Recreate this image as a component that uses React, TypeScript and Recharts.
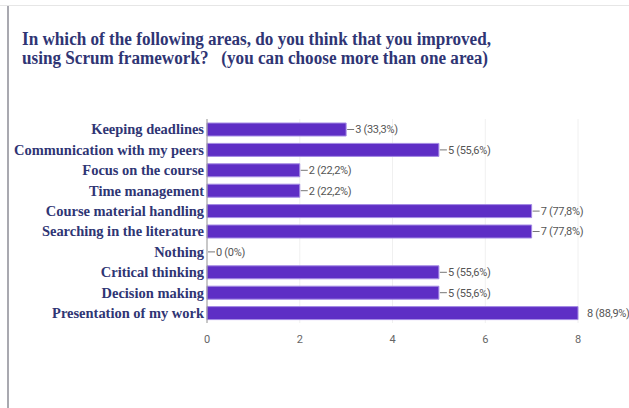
import React from "react";
import { BarChart, Bar, XAxis, YAxis, CartesianGrid, LabelList, Rectangle } from "recharts";

const categories = [
  "Keeping deadlines",
  "Communication with my peers",
  "Focus on the course",
  "Time management",
  "Course material handling",
  "Searching in the literature",
  "Nothing",
  "Critical thinking",
  "Decision making",
  "Presentation of my work",
];
const counts = [3, 5, 2, 2, 7, 7, 0, 5, 5, 8];
const percents = ["33,3%", "55,6%", "22,2%", "22,2%", "77,8%", "77,8%", "0%", "55,6%", "55,6%", "88,9%"];
const xTicks = [0, 2, 4, 6, 8];

const data = categories.map((name, i) => ({ name, value: counts[i], pct: percents[i] }));

const NAVY = "#2f3574";

const ValueLabel = (props: any) => {
  const { x, y, height, value } = props;
  const d = data.find((r) => r.name === value);
  if (!d) return null;
  const cy = y + height / 2;
  const endX = d.value === 0 ? x : x + props.width;
  const isMax = d.value === 8;
  const text = `${d.value} (${d.pct})`;
  return (
    <g>
      {!isMax && <line x1={endX + 1} x2={endX + 8} y1={cy} y2={cy} stroke="#777" strokeWidth={1} />}
      <text
        x={endX + 9}
        y={cy}
        dy="0.35em"
        fontFamily="Roboto, Arial, sans-serif"
        fontSize={11}
        fill="#555"
        letterSpacing={-0.3}
      >
        {text}
      </text>
    </g>
  );
};

const BarShape = (props: any) => {
  if (!props.payload || props.payload.value === 0) return null;
  return <Rectangle {...props} />;
};

const CatTick = (props: any) => {
  const { x, y, payload } = props;
  const tx = x + 5;
  return (
    <text
      x={tx}
      y={y}
      dy="0.35em"
      textAnchor="end"
      fontFamily="'Liberation Serif', 'Times New Roman', serif"
      fontWeight="bold"
      fontSize={15}
      fill={NAVY}
      transform={`translate(${tx} 0) scale(0.965 1) translate(${-tx} 0)`}
    >
      {payload.value}
    </text>
  );
};

export default function App() {
  return (
    <div style={{ position: "absolute", left: 0, top: 0, width: 629, height: 408, background: "#fff", overflow: "hidden" }}>
      <div style={{ position: "absolute", left: 0, top: 5, width: 629, height: 1, background: "#e6e6e6" }} />
      <div style={{ position: "absolute", left: 7, top: 6, width: 2, height: 402, background: "#a9a9b0" }} />
      <div
        style={{
          position: "absolute",
          left: 22,
          top: 29,
          width: 700,
          fontFamily: "'Liberation Serif', 'Times New Roman', serif",
          fontWeight: "bold",
          fontSize: 19.7,
          lineHeight: "18.5px",
          color: NAVY,
          whiteSpace: "pre",
          transform: "scaleX(0.87)",
          transformOrigin: "0 0",
        }}
      >
        {"In which of the following areas, do you think that you improved,\nusing Scrum framework?   (you can choose more than one area)"}
      </div>
      <div style={{ position: "absolute", left: 0, top: 0 }}>
        <BarChart
          width={629}
          height={408}
          layout="vertical"
          data={data}
          margin={{ top: 119, right: 51, bottom: 55, left: 0 }}
          barSize={13}
        >
          <CartesianGrid horizontal={false} stroke="#f0f0f0" />
          <XAxis
            type="number"
            domain={[0, 8]}
            ticks={xTicks}
            axisLine={false}
            tickLine={false}
            tick={{ fill: "#666", fontSize: 11, fontFamily: "Roboto, Arial, sans-serif" }}
            height={30}
            tickMargin={6}
          />
          <YAxis
            type="category"
            dataKey="name"
            width={207}
            axisLine={{ stroke: "#999" }}
            tickLine={false}
            tick={<CatTick />}
            interval={0}
          />
          <Bar
            dataKey="value"
            fill="#5e2ec5"
            stroke="#a48be4"
            strokeWidth={1}
            minPointSize={1}
            shape={<BarShape />}
            isAnimationActive={false}
          >
            <LabelList dataKey="name" content={<ValueLabel />} />
          </Bar>
        </BarChart>
      </div>
    </div>
  );
}
